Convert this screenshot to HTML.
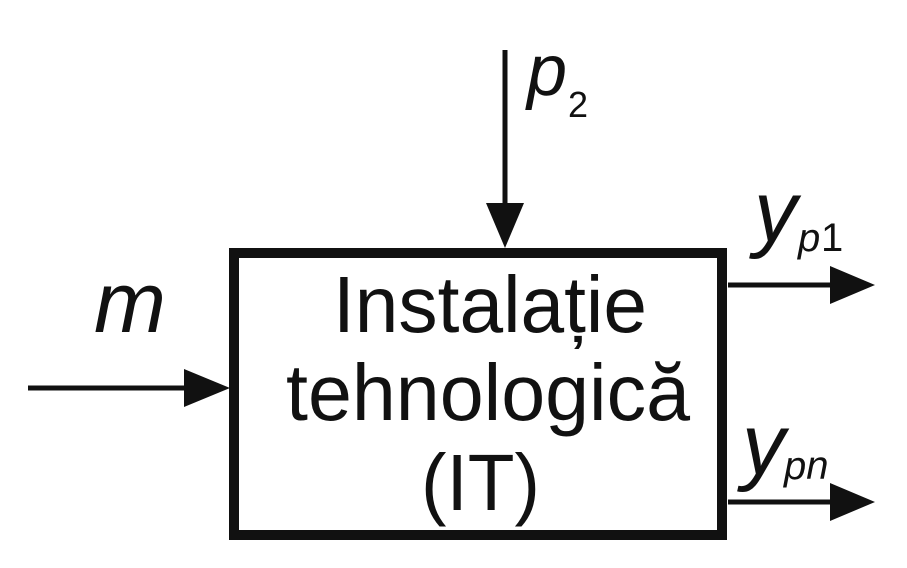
<!DOCTYPE html>
<html><head><meta charset="utf-8"><style>
html,body{margin:0;padding:0;background:#fff;}
svg{display:block;}
text{font-family:"Liberation Sans",Arial,sans-serif;fill:#111;}
</style></head><body>
<svg width="907" height="568" viewBox="0 0 907 568" xmlns="http://www.w3.org/2000/svg">
<rect x="234" y="253" width="488" height="282" fill="none" stroke="#111" stroke-width="10"/>
<line x1="505" y1="50" x2="505" y2="210" stroke="#111" stroke-width="5"/>
<polygon points="486,203 524,203 505,248" fill="#111"/>
<line x1="28" y1="388" x2="190" y2="388" stroke="#111" stroke-width="5"/>
<polygon points="184,369 184,407 230,388" fill="#111"/>
<line x1="728" y1="285" x2="835" y2="285" stroke="#111" stroke-width="5"/>
<polygon points="830,266 830,304 875,285" fill="#111"/>
<line x1="728" y1="502" x2="835" y2="502" stroke="#111" stroke-width="5"/>
<polygon points="830,483 830,521 875,502" fill="#111"/>
<text x="333" y="332" font-size="80" textLength="314" lengthAdjust="spacingAndGlyphs">Instalație</text>
<text x="286" y="420" font-size="80" textLength="404" lengthAdjust="spacingAndGlyphs">tehnologică</text>
<text x="421" y="510" font-size="80" textLength="119" lengthAdjust="spacingAndGlyphs">(IT)</text>
<text x="94" y="332" font-size="86" font-style="italic" textLength="72" lengthAdjust="spacingAndGlyphs">m</text>
<text x="527" y="95" font-size="72" font-style="italic">p</text>
<text x="568" y="117" font-size="36">2</text>
<text x="754" y="241" font-size="86" font-style="italic">y</text>
<text x="798" y="251" font-size="40" font-style="italic">p</text><text x="821" y="251" font-size="40">1</text>
<text x="742" y="474" font-size="86" font-style="italic">y</text>
<text x="784" y="479" font-size="40" font-style="italic">pn</text>
</svg>
</body></html>
